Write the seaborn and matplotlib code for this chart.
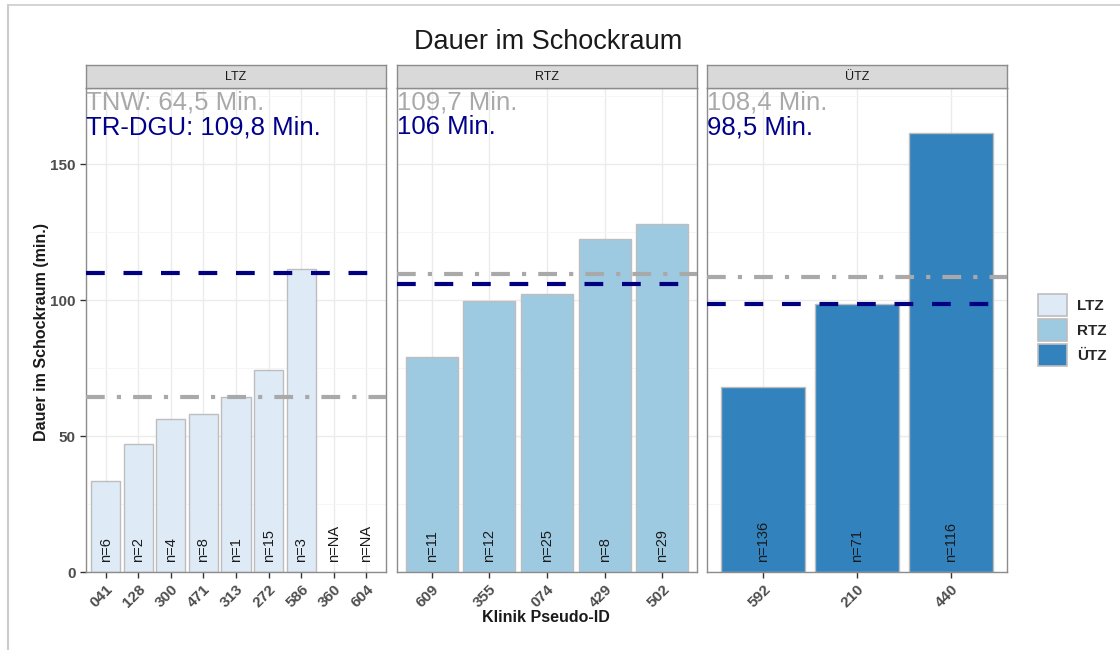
import pandas as pd
import numpy as np
import matplotlib
matplotlib.use('Agg')
import matplotlib.pyplot as plt
import seaborn as sns
from matplotlib.patches import Patch
from matplotlib.lines import Line2D

# Data
GROUPS = ['LTZ', 'RTZ', 'ÜTZ']
LTZ_IDS = ['041', '128', '300', '471', '313', '272', '586', '360', '604']
LTZ_VALS = [33.5, 47.2, 56.4, 58.2, 64.5, 74.4, 111.3, np.nan, np.nan]
LTZ_N = ['n=6', 'n=2', 'n=4', 'n=8', 'n=1', 'n=15', 'n=3', 'n=NA', 'n=NA']
RTZ_IDS = ['609', '355', '074', '429', '502']
RTZ_VALS = [79.2, 99.5, 102.4, 122.3, 127.9]
RTZ_N = ['n=11', 'n=12', 'n=25', 'n=8', 'n=29']
UTZ_IDS = ['592', '210', '440']
UTZ_VALS = [68.2, 98.4, 161.4]
UTZ_N = ['n=136', 'n=71', 'n=116']

TNW = [64.5, 109.7, 108.4]
TRDGU = [109.8, 106.0, 98.5]
TNW_LABELS = ['TNW: 64,5 Min.', '109,7 Min.', '108,4 Min.']
TRDGU_LABELS = ['TR-DGU: 109,8 Min.', '106 Min.', '98,5 Min.']

COLORS = {'LTZ': '#DEEBF7', 'RTZ': '#9ECAE1', 'ÜTZ': '#3182BD'}

FONT = ['Liberation Sans', 'DejaVu Sans']
TICK_COLOR = '#4D4D4D'


def build_frame():
    """Collect everything into one long table."""
    parts = []
    for g, ids, vals, ns in [('LTZ', LTZ_IDS, LTZ_VALS, LTZ_N),
                             ('RTZ', RTZ_IDS, RTZ_VALS, RTZ_N),
                             ('ÜTZ', UTZ_IDS, UTZ_VALS, UTZ_N)]:
        parts.append(pd.DataFrame({'group': g, 'klinik': ids, 'dauer': vals, 'n': ns}))
    return pd.concat(parts, ignore_index=True)


def draw_panel(ax, sub, group, tnw, trdgu, tnw_lab, trdgu_lab):
    order = list(sub['klinik'])
    sns.barplot(data=sub.dropna(subset=['dauer']), x='klinik', y='dauer', order=order,
                color=COLORS[group], edgecolor='#BDBDBD', linewidth=1.0,
                width=0.9, errorbar=None, ax=ax, saturation=1)
    ax.set_xlim(-0.6, len(order) - 0.4)
    ax.set_ylim(0, 178)
    ax.set_yticks([0, 50, 100, 150])
    ax.set_yticks([25, 75, 125, 175], minor=True)

    # grid after barplot, seaborn switches the categorical grid off
    ax.xaxis.grid(True, which='major', color='#EBEBEB', linewidth=1.0)
    ax.yaxis.grid(True, which='major', color='#EBEBEB', linewidth=1.0)
    ax.yaxis.grid(True, which='minor', color='#F4F4F4', linewidth=0.6)
    ax.set_axisbelow(True)

    for i, lab in enumerate(sub['n']):
        ax.text(i, 3.5, lab, rotation=90, rotation_mode='anchor', ha='left', va='center',
                fontsize=10.5, color='#1A1A1A', family=FONT)

    ax.axhline(tnw, color='#A9A9A9', linewidth=3, linestyle=(0, (4.5, 2.9, 1.0, 2.9)), zorder=5)
    ax.axhline(trdgu, color='#000080', linewidth=3, linestyle=(0, (4.5, 4.5)), zorder=6)

    ax.text(0.0, 172.5, tnw_lab, transform=ax.get_yaxis_transform(), ha='left', va='center',
            fontsize=18.5, color='#A9A9A9', family=FONT)
    ax.text(0.0, 163.5, trdgu_lab, transform=ax.get_yaxis_transform(), ha='left', va='center',
            fontsize=18.5, color='#00008B', family=FONT)

    ax.set_xlabel('')
    ax.set_ylabel('')
    for s in ax.spines.values():
        s.set_color('#8C8C8C')
        s.set_linewidth(1.0)
    ax.tick_params(axis='both', which='major', color='#333333', length=4, width=1,
                   bottom=True, left=True)
    ax.tick_params(axis='y', which='minor', length=0)
    for t in ax.get_xticklabels():
        t.set_rotation(45)
        t.set_ha('right')
        t.set_rotation_mode('anchor')
        t.set_fontsize(11)
        t.set_fontweight('bold')
        t.set_color(TICK_COLOR)
        t.set_family(FONT)


def main():
    df = build_frame()
    sns.set_style('white')
    plt.rcParams['font.family'] = FONT

    fig = plt.figure(figsize=(11.2, 6.5), dpi=100)
    W, H = 1120, 650
    lefts = [86, 397, 707]
    pw = 300
    top, bottom = 88, 572

    axes = []
    for k, g in enumerate(GROUPS):
        ax = fig.add_axes([lefts[k] / W, 1 - bottom / H, pw / W, (bottom - top) / H])
        draw_panel(ax, df[df['group'] == g].reset_index(drop=True), g,
                   TNW[k], TRDGU[k], TNW_LABELS[k], TRDGU_LABELS[k])
        # facet strip
        sax = fig.add_axes([lefts[k] / W, 1 - top / H, pw / W, 23 / H])
        sax.set_facecolor('#D9D9D9')
        sax.set_xticks([])
        sax.set_yticks([])
        for s in sax.spines.values():
            s.set_color('#8C8C8C')
            s.set_linewidth(1.0)
        sax.text(0.5, 0.5, g, ha='center', va='center', fontsize=9, color='#1A1A1A', family=FONT)
        axes.append(ax)

    axes[0].tick_params(axis='y', labelsize=11, labelcolor=TICK_COLOR)
    for t in axes[0].get_yticklabels():
        t.set_fontweight('bold')
    for ax in axes[1:]:
        ax.tick_params(axis='y', left=False, labelleft=False)

    fig.text(548 / W, 1 - 42 / H, 'Dauer im Schockraum', ha='center', va='center',
             fontsize=19.5, color='#1A1A1A', family=FONT)
    fig.text(546 / W, 1 - 618 / H, 'Klinik Pseudo-ID', ha='center', va='center',
             fontsize=11.5, fontweight='bold', color='#1A1A1A', family=FONT)
    fig.text(42 / W, 1 - 332 / H, 'Dauer im Schockraum (min.)', rotation=90, ha='center',
             va='center', fontsize=11.5, fontweight='bold', color='#1A1A1A', family=FONT)

    handles = [Patch(facecolor=COLORS[g], edgecolor='#BDBDBD', linewidth=1.2, label=g) for g in GROUPS]
    fig.legend(handles=handles, loc='center left', bbox_to_anchor=(1024 / W, 1 - 330 / H),
               frameon=False, handlelength=1.9, handleheight=1.9, handletextpad=0.7,
               labelspacing=0.15, prop={'family': FONT, 'weight': 'bold', 'size': 11})

    # light frame of the screenshot
    fig.add_artist(Line2D([8 / W, 1], [1 - 5 / H, 1 - 5 / H], color='#CCCCCC', linewidth=1.2,
                          transform=fig.transFigure))
    fig.add_artist(Line2D([8 / W, 8 / W], [0, 1 - 5 / H], color='#CCCCCC', linewidth=1.5,
                          transform=fig.transFigure))

    fig.savefig('out.png', dpi=100)


if __name__ == "__main__":
    main()
